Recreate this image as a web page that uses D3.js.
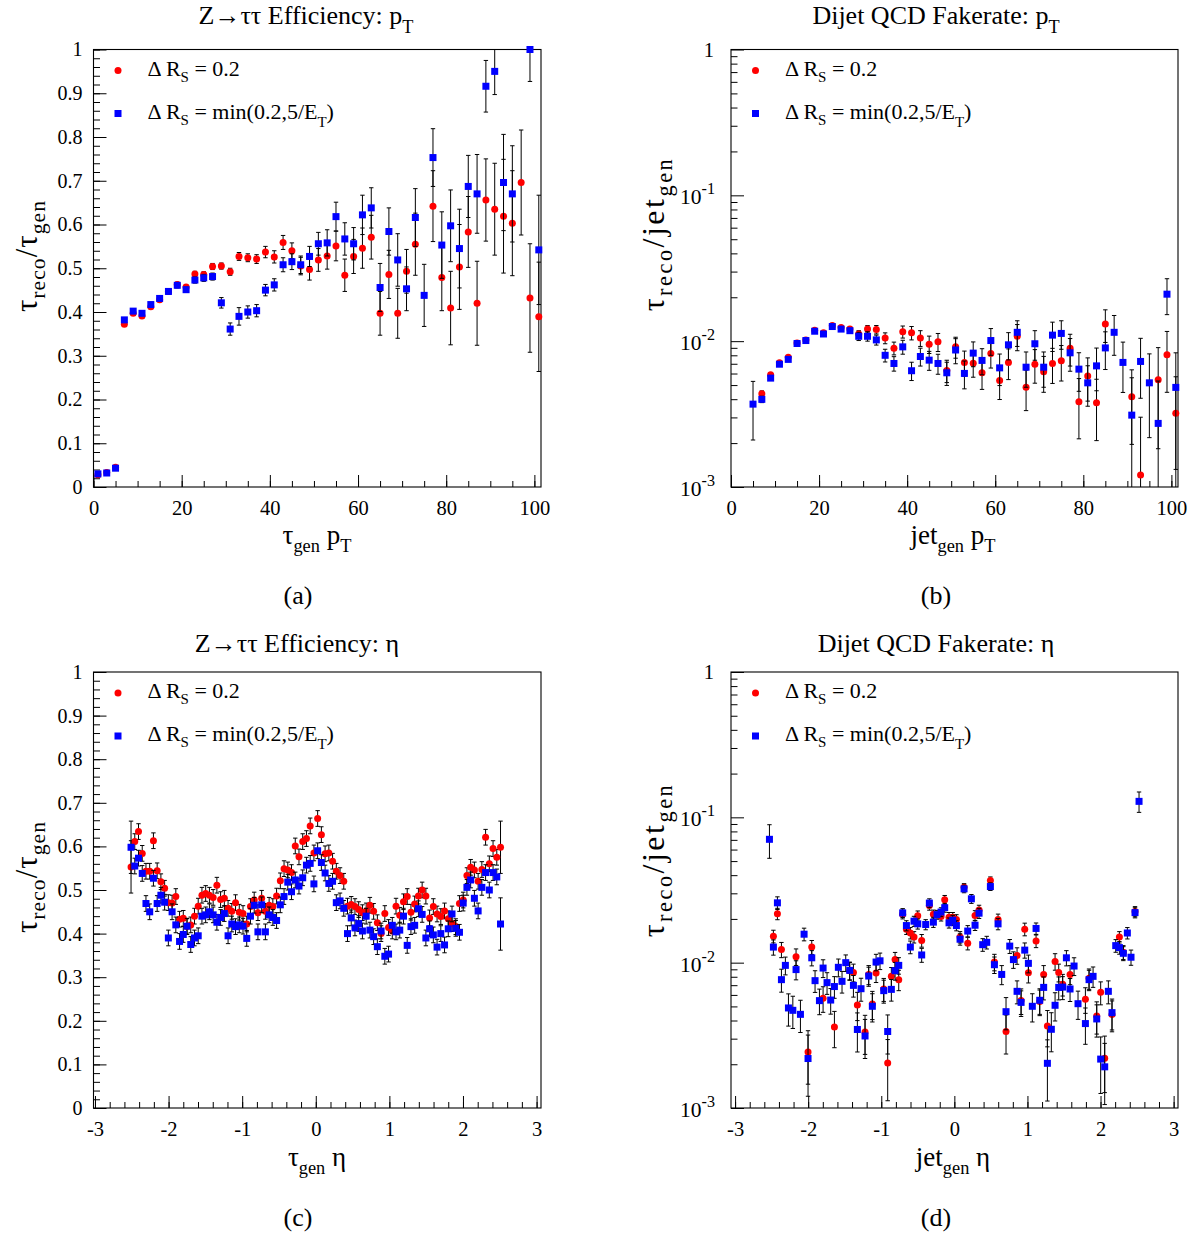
<!DOCTYPE html>
<html>
<head>
<meta charset="utf-8">
<script src="https://cdn.jsdelivr.net/npm/d3@7"></script>
<style>
  body { margin: 0; background: #fff; }
  text { white-space: pre; }
</style>
</head>
<body>
<svg id="fig" width="1200" height="1238"></svg>
<script>
// ---- data ----
// pT panels: [bin centre, value, error]
var effPtRed = [
  [1,0.028,0.003],[3,0.033,0.003],[5,0.045,0.004],[7,0.372,0.004],[9,0.397,0.004],[11,0.391,0.004],
  [13,0.412,0.004],[15,0.428,0.004],[17,0.447,0.005],[19,0.463,0.005],[21,0.457,0.005],[23,0.487,0.006],
  [25,0.486,0.006],[27,0.504,0.007],[29,0.505,0.007],[31,0.492,0.008],[33,0.527,0.009],[35,0.524,0.009],
  [37,0.521,0.010],[39,0.537,0.013],[41,0.526,0.014],[43,0.559,0.016],[45,0.540,0.018],[47,0.505,0.020],
  [49,0.497,0.024],[51,0.519,0.026],[53,0.528,0.030],[55,0.551,0.034],[57,0.484,0.037],[59,0.527,0.039],
  [61,0.546,0.046],[63,0.571,0.050],[65,0.397,0.050],[67,0.486,0.055],[69,0.397,0.057],[71,0.493,0.050],
  [73,0.555,0.071],[77,0.642,0.081],[79,0.479,0.076],[81,0.409,0.084],[83,0.503,0.097],[85,0.583,0.081],
  [87,0.420,0.096],[89,0.656,0.094],[91,0.635,0.105],[93,0.619,0.130],[95,0.603,0.120],[97,0.696,0.120],
  [99,0.432,0.124],[101,0.389,0.125]
];
var effPtBlue = [
  [1,0.030,0.003],[3,0.032,0.003],[5,0.043,0.004],[7,0.382,0.005],[9,0.402,0.005],[11,0.397,0.005],
  [13,0.417,0.005],[15,0.431,0.005],[17,0.447,0.006],[19,0.461,0.006],[21,0.451,0.006],[23,0.473,0.007],
  [25,0.478,0.008],[27,0.481,0.008],[29,0.421,0.012],[31,0.361,0.014],[33,0.390,0.020],[35,0.400,0.014],
  [37,0.403,0.014],[39,0.450,0.013],[41,0.462,0.014],[43,0.508,0.016],[45,0.515,0.018],[47,0.508,0.020],
  [49,0.527,0.023],[51,0.556,0.026],[53,0.558,0.030],[55,0.618,0.033],[57,0.567,0.037],[59,0.556,0.037],
  [61,0.622,0.045],[63,0.638,0.046],[65,0.456,0.055],[67,0.584,0.054],[69,0.519,0.060],[71,0.453,0.050],
  [73,0.616,0.066],[75,0.438,0.071],[77,0.753,0.066],[79,0.553,0.076],[81,0.597,0.082],[83,0.545,0.090],
  [85,0.687,0.071],[87,0.670,0.090],[89,0.916,0.059],[91,0.950,0.053],[93,0.696,0.110],[95,0.670,0.110],
  [99,1.000,0.073],[101,0.542,0.125]
];
var fakePtRed = [
  [7,0.00436,0.0002],[9,0.00588,0.0002],[11,0.0071,0.0002],[13,0.00776,0.0002],[15,0.0097,0.0003],
  [17,0.0102,0.0003],[19,0.0119,0.0003],[21,0.0114,0.0003],[23,0.0128,0.0004],[25,0.0124,0.0004],
  [27,0.0121,0.0004],[29,0.0112,0.0006],[31,0.0121,0.0007],[33,0.0120,0.0008],[35,0.0105,0.0009],
  [37,0.00895,0.0009],[39,0.0116,0.0011],[41,0.0114,0.0012],[43,0.0105,0.0013],[45,0.00953,0.0013],
  [47,0.00989,0.0014],[49,0.0063,0.0011],[51,0.00914,0.0015],[53,0.00715,0.0014],[55,0.00706,0.0014],
  [57,0.00607,0.0014],[59,0.00824,0.0017],[61,0.00538,0.0014],[63,0.00715,0.0017],[65,0.0108,0.0022],
  [67,0.00484,0.0015],[69,0.00695,0.0018],[71,0.00616,0.0017],[73,0.00703,0.0019],[75,0.00733,0.0020],
  [77,0.00895,0.0022],[79,0.00384,0.0017],[81,0.00578,0.0019],[83,0.00378,0.0017],[85,0.0131,0.0033],
  [91,0.00416,0.0022],[93,0.00121,0.0018],[97,0.00543,0.0036],[99,0.00806,0.0036],[101,0.0032,0.0025]
];
var fakePtBlue = [
  [5,0.0037,0.0016],[7,0.00399,0.0002],[9,0.00558,0.0002],[11,0.00695,0.0002],[13,0.0075,0.0002],
  [15,0.00964,0.0003],[17,0.0101,0.0003],[19,0.0117,0.0003],[21,0.0112,0.0003],[23,0.0126,0.0004],
  [25,0.0121,0.0004],[27,0.0118,0.0004],[29,0.0108,0.0007],[31,0.0108,0.0008],[33,0.0102,0.0008],
  [35,0.0080,0.0008],[37,0.00703,0.0008],[39,0.00914,0.0010],[41,0.00627,0.0009],[43,0.00785,0.0011],
  [45,0.00741,0.0011],[47,0.00703,0.0011],[49,0.00607,0.0011],[51,0.0087,0.0017],[53,0.00601,0.0013],
  [55,0.00828,0.0016],[57,0.00738,0.0015],[59,0.0101,0.0021],[61,0.00656,0.0016],[63,0.00944,0.0020],
  [65,0.0115,0.0023],[67,0.00663,0.0018],[69,0.0096,0.0022],[71,0.00663,0.0018],[73,0.0110,0.0025],
  [75,0.0113,0.0025],[77,0.00832,0.0021],[79,0.00643,0.0019],[81,0.00518,0.0016],[83,0.00677,0.0022],
  [85,0.00899,0.0026],[87,0.0115,0.0035],[89,0.00715,0.0027],[91,0.00311,0.0025],[93,0.00726,0.0032],
  [95,0.00518,0.0030],[97,0.00273,0.0026],[99,0.021,0.0058],[101,0.00482,0.0035]
];

// eta efficiency: 100 bins between -2.51 and 2.51
var etaBins = d3.range(100).map(function(i) { return -2.51 + i * 5.02 / 99; });
var effEtaRed = [
  0.553,0.611,0.634,0.584,0.543,0.543,0.613,0.544,0.519,0.504,
  0.471,0.470,0.485,0.433,0.435,0.416,0.420,0.440,0.463,0.488,
  0.492,0.488,0.483,0.511,0.478,0.481,0.458,0.451,0.471,0.449,
  0.446,0.422,0.462,0.477,0.448,0.481,0.451,0.465,0.462,0.486,
  0.521,0.549,0.546,0.540,0.601,0.576,0.611,0.618,0.647,0.585,
  0.664,0.627,0.583,0.585,0.566,0.543,0.533,0.520,0.463,0.467,
  0.462,0.455,0.448,0.452,0.465,0.451,0.425,0.400,0.446,0.414,
  0.406,0.463,0.442,0.473,0.485,0.449,0.468,0.486,0.500,0.486,
  0.436,0.462,0.445,0.439,0.452,0.434,0.423,0.416,0.469,0.477,
  0.533,0.552,0.546,0.520,0.547,0.621,0.560,0.595,0.575,0.598
];
var effEtaBlue = [
  0.598,0.555,0.573,0.538,0.469,0.450,0.527,0.469,0.488,0.472,
  0.390,0.450,0.420,0.382,0.398,0.417,0.375,0.390,0.395,0.440,
  0.443,0.450,0.443,0.426,0.437,0.446,0.395,0.422,0.416,0.420,
  0.417,0.389,0.440,0.465,0.404,0.466,0.404,0.443,0.437,0.430,
  0.466,0.485,0.518,0.496,0.523,0.509,0.528,0.557,0.561,0.514,
  0.590,0.563,0.539,0.515,0.520,0.471,0.475,0.458,0.400,0.436,
  0.413,0.423,0.406,0.440,0.408,0.393,0.370,0.406,0.348,0.353,
  0.419,0.404,0.408,0.440,0.373,0.416,0.419,0.457,0.444,0.390,
  0.411,0.397,0.369,0.400,0.374,0.411,0.445,0.412,0.403,0.470,
  0.506,0.523,0.481,0.452,0.506,0.540,0.500,0.540,0.530,0.422
];
var effEtaErr = 0.018;
var effEtaEdgeErr = 0.06;   // first and last bins

// eta fake rate: [eta, value, relative error]
var fakeEtaRed = [
  [-2.476,0.0152,0.10],[-2.421,0.0217,0.09],[-2.366,0.0123,0.12],[-2.166,0.011,0.13],[-2.002,0.00243,0.40],
  [-1.951,0.0128,0.11],[-1.796,0.00569,0.20],[-1.641,0.00361,0.28],[-1.432,0.0088,0.14],[-1.381,0.00857,0.14],
  [-1.327,0.00512,0.22],[-1.222,0.00334,0.30],[-1.172,0.0083,0.15],[-1.122,0.0052,0.22],[-1.071,0.00849,0.14],
  [-0.966,0.0066,0.18],[-0.912,0.00204,0.45],[-0.862,0.00805,0.15],[-0.811,0.0105,0.12],[-0.761,0.00764,0.16],
  [-0.707,0.0215,0.07],[-0.656,0.017,0.08],[-0.602,0.016,0.09],[-0.552,0.015,0.09],[-0.501,0.021,0.08],
  [-0.447,0.0142,0.10],[-0.342,0.0247,0.07],[-0.287,0.0215,0.07],[-0.182,0.0208,0.07],[-0.132,0.0271,0.07],
  [-0.073,0.0205,0.08],[-0.022,0.0205,0.08],[0.028,0.0198,0.08],[0.078,0.015,0.09],[0.133,0.033,0.06],
  [0.183,0.0136,0.10],[0.283,0.0211,0.08],[0.338,0.023,0.08],[0.493,0.0367,0.06],[0.548,0.0101,0.13],
  [0.598,0.0198,0.09],[0.707,0.00336,0.30],[0.858,0.0112,0.13],[0.913,0.0055,0.20],[0.963,0.017,0.10],
  [1.013,0.00853,0.15],[1.118,0.0141,0.10],[1.168,0.0054,0.20],[1.222,0.0083,0.15],[1.273,0.00366,0.28],
  [1.378,0.0102,0.13],[1.428,0.00857,0.14],[1.482,0.0071,0.17],[1.583,0.0083,0.15],[1.793,0.0056,0.20],
  [1.843,0.0078,0.16],[1.948,0.0043,0.25],[2.002,0.00625,0.18],[2.057,0.0022,0.42],[2.157,0.0044,0.24],
  [2.258,0.015,0.09],[2.312,0.0118,0.11],[2.472,0.0225,0.08]
];
var fakeEtaBlue = [
  [-2.53,0.0706,0.26],[-2.476,0.0128,0.12],[-2.421,0.0258,0.10],[-2.366,0.00764,0.18],[-2.312,0.00958,0.14],
  [-2.27,0.00488,0.25],[-2.21,0.0047,0.25],[-2.166,0.00896,0.15],[-2.106,0.00441,0.25],[-2.056,0.0157,0.10],
  [-2.002,0.00219,0.45],[-1.951,0.0108,0.12],[-1.906,0.00752,0.17],[-1.846,0.00548,0.20],[-1.796,0.00918,0.14],
  [-1.742,0.00729,0.17],[-1.692,0.00553,0.20],[-1.641,0.00685,0.17],[-1.587,0.00929,0.14],[-1.537,0.00744,0.17],
  [-1.486,0.0100,0.13],[-1.432,0.00885,0.14],[-1.381,0.00698,0.17],[-1.327,0.00347,0.30],[-1.277,0.00662,0.18],
  [-1.222,0.00313,0.30],[-1.172,0.00809,0.15],[-1.122,0.00501,0.22],[-1.071,0.0101,0.13],[-1.017,0.0103,0.13],
  [-0.966,0.00642,0.18],[-0.912,0.00336,0.30],[-0.862,0.00655,0.17],[-0.811,0.00881,0.14],[-0.761,0.00958,0.13],
  [-0.707,0.022,0.07],[-0.656,0.018,0.08],[-0.602,0.0128,0.10],[-0.552,0.0193,0.08],[-0.501,0.0185,0.08],
  [-0.447,0.0113,0.11],[-0.392,0.0183,0.08],[-0.342,0.0257,0.07],[-0.287,0.019,0.08],[-0.237,0.0214,0.07],
  [-0.182,0.0223,0.07],[-0.132,0.0239,0.07],[-0.073,0.0188,0.08],[-0.022,0.0196,0.08],[0.028,0.018,0.08],
  [0.078,0.0145,0.09],[0.133,0.0322,0.06],[0.183,0.0165,0.09],[0.233,0.0275,0.07],[0.283,0.0181,0.08],
  [0.338,0.0219,0.08],[0.388,0.0133,0.10],[0.443,0.0138,0.10],[0.493,0.0334,0.06],[0.548,0.00968,0.13],
  [0.598,0.0185,0.09],[0.648,0.0083,0.15],[0.707,0.0046,0.25],[0.758,0.013,0.11],[0.808,0.0105,0.13],
  [0.858,0.00635,0.18],[0.913,0.00533,0.20],[0.963,0.0122,0.12],[1.013,0.00989,0.14],[1.067,0.00501,0.22],
  [1.118,0.0172,0.09],[1.168,0.00551,0.20],[1.222,0.00676,0.18],[1.273,0.00203,0.45],[1.327,0.00348,0.30],
  [1.378,0.00509,0.22],[1.428,0.00676,0.18],[1.482,0.00679,0.18],[1.533,0.0108,0.12],[1.583,0.00659,0.18],
  [1.638,0.00948,0.14],[1.692,0.00522,0.22],[1.793,0.00381,0.28],[1.843,0.00764,0.16],[1.898,0.00805,0.16],
  [1.948,0.0041,0.25],[2.002,0.00217,0.42],[2.057,0.00192,0.45],[2.107,0.00635,0.18],[2.157,0.00453,0.24],
  [2.208,0.0131,0.10],[2.258,0.0127,0.10],[2.312,0.0116,0.11],[2.367,0.016,0.09],[2.417,0.0109,0.12],
  [2.472,0.0221,0.08],[2.527,0.1288,0.16]
];

var legendLabels = [
  [["Δ R"], ["S", 6, 0.68], [" = 0.2", 0]],
  [["Δ R"], ["S", 6, 0.68], [" = min(0.2,5/E", 0], ["T", 8, 0.68], [")", 0]]
];

// ---- drawing ----
var SERIF = "'Liberation Serif', 'Times New Roman', serif";
var svg = d3.select("#fig");
svg.append("rect").attr("width", 1200).attr("height", 1238).attr("fill", "#fff");

// text with sub/superscripts: parts = [text, verticalOffset, sizeScale]
function rich(g, x, y, parts, size, anchor, rot, spacing) {
  var t = g.append("text")
    .attr("x", x).attr("y", y)
    .attr("text-anchor", anchor || "start")
    .style("font-family", SERIF)
    .style("font-size", size + "px")
    .attr("fill", "#000");
  if (spacing) t.style("letter-spacing", spacing + "px");
  if (rot) t.attr("transform", "rotate(" + rot + "," + x + "," + y + ")");
  var cur = 0;
  parts.forEach(function(p) {
    var ts = t.append("tspan").text(p[0]);
    var o = p[1] || 0;
    if (o !== cur) { ts.attr("dy", o - cur); cur = o; }
    if (p[2]) ts.style("font-size", (size * p[2]) + "px");
  });
  return t;
}

var panels = [
  { x0: 93.5, x1: 541, y0: 49.5, y1: 487, xDomain: [0, 101.5], log: false,
    xMajor: d3.range(0, 101, 20), xMinor: d3.range(0, 101.5, 5),
    title: [["Z→ττ Efficiency: p"], ["T", 9, 0.7]], titleX: 306, titleY: 24,
    xTitle: [["τ"], ["gen", 8, 0.68], [" p", 0], ["T", 8, 0.68]], xTitleX: 317, xTitleY: 544,
    yTitle: [["τ"], ["reco", 8, 0.7], ["/τ", 0], ["gen", 8, 0.7]], yTitleX: 37, yTitleY: 256, yTitleSize: 31, yTitleSp: 1,
    tag: "(a)", tagX: 298, tagY: 604,
    red: effPtRed, blue: effPtBlue, errMode: "abs" },
  { x0: 731, x1: 1178, y0: 49.5, y1: 487, xDomain: [0, 101.5], log: true,
    xMajor: d3.range(0, 101, 20), xMinor: d3.range(0, 101.5, 5),
    title: [["Dijet QCD Fakerate: p"], ["T", 9, 0.7]], titleX: 936, titleY: 24,
    xTitle: [["jet"], ["gen", 8, 0.68], [" p", 0], ["T", 8, 0.68]], xTitleX: 953, xTitleY: 544,
    yTitle: [["τ"], ["reco", 8, 0.7], ["/jet", 0], ["gen", 8, 0.7]], yTitleX: 664, yTitleY: 234, yTitleSize: 32, yTitleSp: 2.5,
    tag: "(b)", tagX: 936, tagY: 604,
    red: fakePtRed, blue: fakePtBlue, errMode: "abs" },
  { x0: 93.5, x1: 541, y0: 672, y1: 1108, xDomain: [-3.02, 3.06], log: false,
    xMajor: d3.range(-3, 3.01, 1), xMinor: d3.range(-3, 3.01, 0.2),
    title: [["Z→ττ Efficiency: η"]], titleX: 297, titleY: 652,
    xTitle: [["τ"], ["gen", 8, 0.68], [" η", 0]], xTitleX: 317, xTitleY: 1166,
    yTitle: [["τ"], ["reco", 8, 0.7], ["/τ", 0], ["gen", 8, 0.7]], yTitleX: 37, yTitleY: 877, yTitleSize: 31, yTitleSp: 1,
    tag: "(c)", tagX: 298, tagY: 1226,
    red: effEtaRed.map(function(v, i) { return [etaBins[i], v, (i === 0 || i === 99) ? effEtaEdgeErr : effEtaErr]; }),
    blue: effEtaBlue.map(function(v, i) { return [etaBins[i], v, (i === 0 || i === 99) ? effEtaEdgeErr : effEtaErr]; }),
    errMode: "abs" },
  { x0: 731, x1: 1178, y0: 672, y1: 1108, xDomain: [-3.056, 3.06], log: true,
    xMajor: d3.range(-3, 3.01, 1), xMinor: d3.range(-3, 3.01, 0.2),
    title: [["Dijet QCD Fakerate: η"]], titleX: 936, titleY: 652,
    xTitle: [["jet"], ["gen", 8, 0.68], [" η", 0]], xTitleX: 953, xTitleY: 1166,
    yTitle: [["τ"], ["reco", 8, 0.7], ["/jet", 0], ["gen", 8, 0.7]], yTitleX: 664, yTitleY: 860, yTitleSize: 32, yTitleSp: 2.5,
    tag: "(d)", tagX: 936, tagY: 1226,
    red: fakeEtaRed, blue: fakeEtaBlue, errMode: "rel" }
];

// d3 axes set their own font on the group, so restyle the labels afterwards
function styleTicks(a, size) {
  a.select(".domain").remove();
  a.attr("font-family", null).attr("font-size", null);
  a.selectAll("text")
    .attr("fill", "#000")
    .style("font-family", SERIF)
    .style("font-size", (size || 20) + "px");
  a.selectAll("line").attr("stroke", "#000");
}

panels.forEach(function(p, pi) {
  var g = svg.append("g");
  var x = d3.scaleLinear().domain(p.xDomain).range([p.x0, p.x1]);
  var y = p.log ? d3.scaleLog().domain([1e-3, 1]).range([p.y1, p.y0])
                : d3.scaleLinear().domain([0, 1]).range([p.y1, p.y0]);

  // x axis (ticks pointing inward)
  g.append("g").attr("transform", "translate(0," + p.y1 + ")")
    .call(d3.axisBottom(x).tickValues(p.xMinor).tickSize(-6).tickFormat(""))
    .call(styleTicks);
  g.append("g").attr("transform", "translate(0," + p.y1 + ")")
    .call(d3.axisBottom(x).tickValues(p.xMajor).tickSize(-12).tickPadding(13)
      .tickFormat(function(d) { return String(Math.round(d)); }))
    .call(styleTicks, 20.5);

  // y axis
  var yMinor, yMajor;
  if (p.log) {
    yMajor = [1e-3, 1e-2, 1e-1, 1];
    yMinor = [];
    [1e-3, 1e-2, 1e-1].forEach(function(dec) {
      d3.range(2, 10).forEach(function(k) { yMinor.push(k * dec); });
    });
  } else {
    yMajor = d3.range(0, 10.5).map(function(k) { return k / 10; });
    yMinor = d3.range(0, 50.5).map(function(k) { return k / 50; });
  }
  g.append("g").attr("transform", "translate(" + p.x0 + ",0)")
    .call(d3.axisLeft(y).tickValues(yMinor).tickSize(-6.5).tickFormat(""))
    .call(styleTicks);
  g.append("g").attr("transform", "translate(" + p.x0 + ",0)")
    .call(d3.axisLeft(y).tickValues(yMajor).tickSize(-13).tickPadding(11)
      .tickFormat(function(d) {
        if (p.log) return "";
        return d === 0 ? "0" : (Math.abs(d - 1) < 1e-9 ? "1" : d3.format(".1f")(d));
      }))
    .call(styleTicks, 20);
  if (p.log) {
    yMajor.forEach(function(v) {
      var yy = y(v);
      if (v === 1) {
        rich(g, p.x0 - 17, yy + 7, [["1"]], 20.5, "end");
      } else {
        var e = Math.round(Math.log10(v));
        rich(g, p.x0 - 16, yy + 9, [["10"], [String(e), -10, 0.75]], 21.5, "end");
      }
    });
  }

  // frame
  g.append("rect")
    .attr("x", p.x0).attr("y", p.y0)
    .attr("width", p.x1 - p.x0).attr("height", p.y1 - p.y0)
    .attr("fill", "none").attr("stroke", "#000").attr("stroke-width", 1.1);

  // titles
  rich(g, p.titleX, p.titleY, p.title, 26, "middle");
  rich(g, p.xTitleX, p.xTitleY, p.xTitle, 27, "middle");
  rich(g, p.yTitleX, p.yTitleY, p.yTitle, p.yTitleSize, "middle", -90, p.yTitleSp);
  rich(g, p.tagX, p.tagY, [[p.tag]], 26, "middle");

  // clip for error bars
  var clipId = "clip" + pi;
  svg.append("clipPath").attr("id", clipId).append("rect")
    .attr("x", p.x0).attr("y", p.y0).attr("width", p.x1 - p.x0).attr("height", p.y1 - p.y0);

  function errs(d) {
    var e = p.errMode === "rel" ? d[1] * d[2] : d[2];
    var lo = d[1] - e, hi = d[1] + e;
    var yl = (p.log && lo <= 0) ? p.y1 + 5 : y(lo);
    return { yl: Math.min(yl, p.y1 + 5), yh: Math.max(y(hi), p.y0 - 5) };
  }

  function series(data, color, shape) {
    var bars = g.append("g").attr("clip-path", "url(#" + clipId + ")");
    var b = bars.selectAll("g").data(data).enter().append("g");
    b.append("line")
      .attr("x1", function(d) { return x(d[0]); }).attr("x2", function(d) { return x(d[0]); })
      .attr("y1", function(d) { return errs(d).yl; }).attr("y2", function(d) { return errs(d).yh; })
      .attr("stroke", "#000").attr("stroke-width", 1);
    b.append("line")
      .attr("x1", function(d) { return x(d[0]) - 2.2; }).attr("x2", function(d) { return x(d[0]) + 2.2; })
      .attr("y1", function(d) { return errs(d).yl; }).attr("y2", function(d) { return errs(d).yl; })
      .attr("stroke", "#000").attr("stroke-width", 1);
    b.append("line")
      .attr("x1", function(d) { return x(d[0]) - 2.2; }).attr("x2", function(d) { return x(d[0]) + 2.2; })
      .attr("y1", function(d) { return errs(d).yh; }).attr("y2", function(d) { return errs(d).yh; })
      .attr("stroke", "#000").attr("stroke-width", 1);

    var m = g.append("g");
    if (shape === "circle") {
      m.selectAll("circle").data(data).enter().append("circle")
        .attr("cx", function(d) { return x(d[0]); })
        .attr("cy", function(d) { return y(d[1]); })
        .attr("r", 3.5).attr("fill", color);
    } else {
      m.selectAll("rect").data(data).enter().append("rect")
        .attr("x", function(d) { return x(d[0]) - 3.5; })
        .attr("y", function(d) { return y(d[1]) - 3.5; })
        .attr("width", 7).attr("height", 7).attr("fill", color);
    }
  }
  series(p.red, "#ff0000", "circle");
  series(p.blue, "#0000ff", "square");

  // legend
  var lx = p.x0 + 24.5, ly1 = p.y0 + 21, ly2 = p.y0 + 64;
  g.append("circle").attr("cx", lx).attr("cy", ly1).attr("r", 3.5).attr("fill", "#ff0000");
  g.append("rect").attr("x", lx - 3.5).attr("y", ly2 - 3.5).attr("width", 7).attr("height", 7).attr("fill", "#0000ff");
  rich(g, p.x0 + 54, ly1 + 5, legendLabels[0], 22, "start");
  rich(g, p.x0 + 54, ly2 + 5, legendLabels[1], 22, "start");
});
</script>
</body>
</html>
